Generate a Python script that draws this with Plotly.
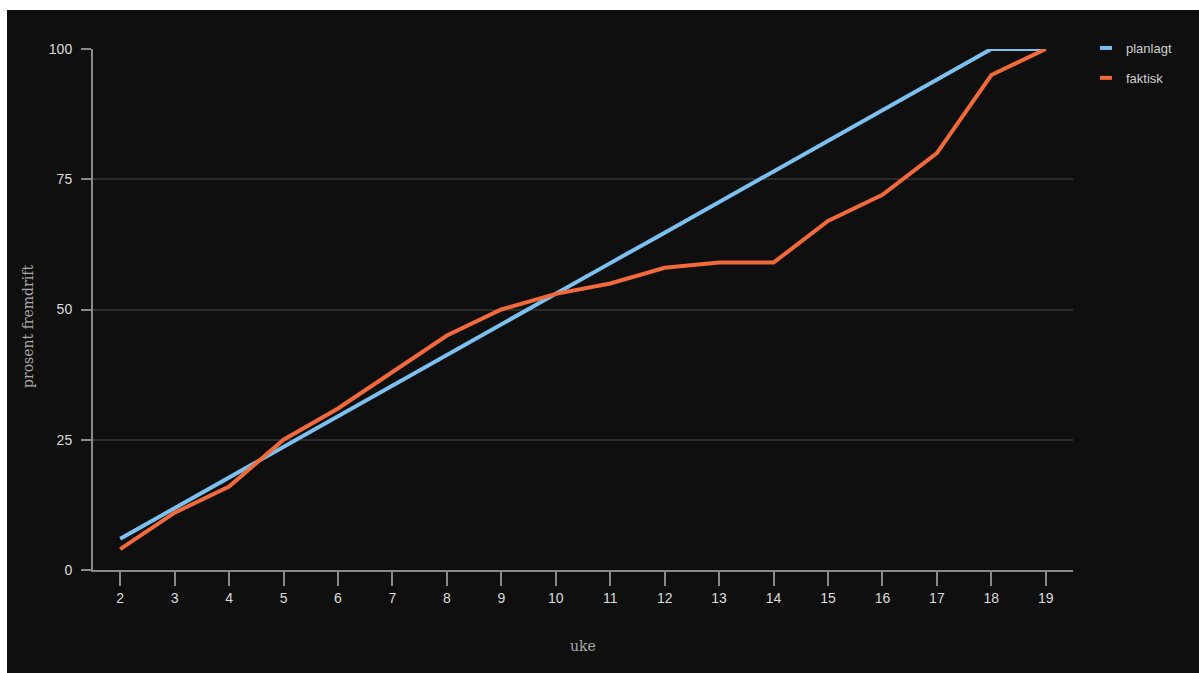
import plotly.graph_objects as go

# Weekly progress: planned vs. actual completion (percent)
uke = [2, 3, 4, 5, 6, 7, 8, 9, 10, 11, 12, 13, 14, 15, 16, 17, 18, 19]
planlagt = [6, 11.9, 17.75, 23.6, 29.5, 35.4, 41.25, 47.1, 53, 58.9,
            64.75, 70.6, 76.5, 82.4, 88.25, 94.1, 100, 100]
faktisk = [4, 11, 16, 25, 31, 38, 45, 50, 53, 55, 58, 59, 59, 67, 72, 80, 95, 100]
y_ticks = [0, 25, 50, 75, 100]

BLUE = "#7cc0f0"
ORANGE = "#f26a3b"
BG = "#0f0f0f"
AXIS = "#8a8a8a"
GRID = "#2c2c2c"
TEXT = "#dcdcdc"

W, H = 1199, 673
L, R, T, B = 93, 126, 49, 103
pw, ph = W - L - R, H - T - B

fig = go.Figure()

for name, vals, col in [("planlagt", planlagt, BLUE), ("faktisk", faktisk, ORANGE)]:
    fig.add_trace(go.Scatter(
        x=uke, y=vals, mode="lines", name=name,
        line=dict(color=col, width=4), showlegend=False, hoverinfo="x+y+name",
    ))
    # short bar swatch for the legend
    fig.add_trace(go.Scatter(
        x=[None], y=[None], mode="markers", name=name, legendgroup=name,
        marker=dict(symbol="line-ew-open", size=8.5, color=col,
                    line=dict(color=col, width=4)),
        showlegend=True,
    ))

# dark card behind the chart, leaving a thin white edge top and left
fig.add_shape(
    type="rect", xref="paper", yref="paper", layer="below",
    x0=(7 - L) / pw, x1=(W + 5 - L) / pw,
    y0=-(B + 5) / ph, y1=1 + (T - 10) / ph,
    fillcolor=BG, line=dict(width=0),
)

serif = dict(family="DejaVu Serif", size=14, color="#a8a8a8")
fig.add_annotation(
    text="prosent fremdrift", xref="paper", yref="paper",
    x=(28 - L) / pw, y=(570 - 327) / ph,
    textangle=-90, showarrow=False, font=serif, xanchor="center", yanchor="middle",
)
fig.add_annotation(
    text="uke", xref="paper", yref="paper",
    x=0.5, y=-(646 - 570) / ph,
    showarrow=False, font=serif, xanchor="center", yanchor="middle",
)

fig.update_layout(
    width=W, height=H,
    margin=dict(l=L, r=R, t=T, b=B, pad=0),
    paper_bgcolor="white",
    plot_bgcolor="rgba(0,0,0,0)",
    font=dict(family="Liberation Sans", size=14, color=TEXT),
    showlegend=True,
    legend=dict(
        x=(1086 - L) / pw, y=1 + (49 - 33) / ph, xanchor="left", yanchor="top",
        bgcolor="rgba(0,0,0,0)", font=dict(size=13, color="#cfcfcf"),
        tracegroupgap=10, itemwidth=30,
    ),
    xaxis=dict(
        range=[1.5, 19.5], tickvals=uke, ticktext=[str(u) for u in uke],
        showgrid=False, zeroline=False, showline=True, linecolor=AXIS, linewidth=2,
        ticks="outside", ticklen=14, tickwidth=2, tickcolor=AXIS,
        tickfont=dict(size=14, color=TEXT), fixedrange=True,
    ),
    yaxis=dict(
        range=[0, 100], tickvals=y_ticks, ticktext=[str(v) for v in y_ticks],
        showgrid=True, gridcolor=GRID, gridwidth=1.5, zeroline=False,
        showline=True, linecolor=AXIS, linewidth=2,
        ticks="outside", ticklen=10, tickwidth=2, tickcolor=AXIS,
        tickfont=dict(size=14, color=TEXT), ticklabelstandoff=6, fixedrange=True,
    ),
)

fig.write_html("out.html")
